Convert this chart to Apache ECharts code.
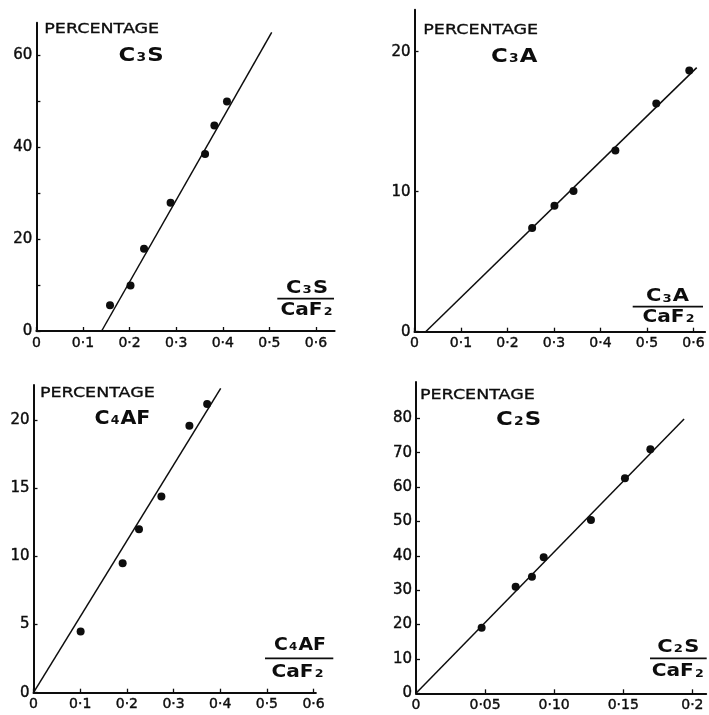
<!DOCTYPE html>
<html><head><meta charset="utf-8">
<script src="https://cdn.jsdelivr.net/npm/echarts@6/dist/echarts.min.js"></script>
<style>html,body{margin:0;padding:0;background:#fff}#c{width:709px;height:715px}</style>
</head><body><div id="c"></div>
<script>
// ---- Panel 1: C3S ----
const c3sX = [0.158, 0.202, 0.231, 0.288, 0.362, 0.382, 0.409];
const c3sY = [5.6, 9.9, 17.9, 27.9, 38.5, 44.7, 49.9];
const c3sLineX = [0.140, 0.505];
const c3sLineY = [0, 64.9];
// ---- Panel 2: C3A ----
const c3aX = [0.253, 0.301, 0.342, 0.432, 0.520, 0.591];
const c3aY = [7.4, 9.0, 10.05, 12.95, 16.3, 18.65];
const c3aLineX = [0.024, 0.607];
const c3aLineY = [0, 18.86];
// ---- Panel 3: C4AF ----
const c4afX = [0.101, 0.191, 0.226, 0.274, 0.334, 0.372];
const c4afY = [4.5, 9.5, 12.0, 14.4, 19.6, 21.2];
const c4afLineX = [0, 0.401];
const c4afLineY = [0, 22.35];
// ---- Panel 4: C2S ----
const c2sX = [0.0475, 0.0721, 0.0839, 0.0924, 0.1266, 0.1512, 0.1696];
const c2sY = [19.1, 31.0, 33.9, 39.6, 50.4, 62.6, 71.0];
const c2sLineX = [0, 0.194];
const c2sLineY = [0, 79.8];

// ---- tick values and labels ----
const xTickVals = [0, 0.1, 0.2, 0.3, 0.4, 0.5, 0.6];
const xTickLabels = ['0', '0·1', '0·2', '0·3', '0·4', '0·5', '0·6'];
const x4TickVals = [0, 0.05, 0.10, 0.15, 0.2];
const x4TickLabels = ['0', '0·05', '0·10', '0·15', '0·2'];
const y1TickVals = [0, 10, 20, 30, 40, 50, 60];
const y1LabelVals = [0, 20, 40, 60];
const y1Labels = ['0', '20', '40', '60'];
const y2TickVals = [0, 10, 20];
const y2Labels = ['0', '10', '20'];
const y3TickVals = [0, 5, 10, 15, 20];
const y3Labels = ['0', '5', '10', '15', '20'];
const y4TickVals = [0, 10, 20, 30, 40, 50, 60, 70, 80];
const y4Labels = ['0', '10', '20', '30', '40', '50', '60', '70', '80'];

const INK = '#0d0d0d';
const FONT = 'DejaVu Sans';

function fmt(vals, labels) {
  return function (v) {
    const i = vals.findIndex(function (t) { return Math.abs(t - v) < 1e-9; });
    return i >= 0 ? labels[i] : '';
  };
}
function zip(a, b) { return a.map(function (v, i) { return [v, b[i]]; }); }

function xAxis(gi, max, tickVals, labelVals, labels) {
  return {
    type: 'value', gridIndex: gi, min: 0, max: max,
    axisLine: { show: true, lineStyle: { color: INK, width: 2 } },
    axisTick: { show: true, inside: true, length: 4, customValues: tickVals, lineStyle: { color: INK, width: 1.3 } },
    axisLabel: { show: true, customValues: labelVals, formatter: fmt(labelVals, labels), color: INK, fontFamily: FONT, fontSize: 14, margin: 5, textBorderColor: INK, textBorderWidth: 0.4 },
    splitLine: { show: false }
  };
}
function yAxis(gi, max, tickVals, labelVals, labels) {
  return {
    type: 'value', gridIndex: gi, min: 0, max: max,
    axisLine: { show: true, onZero: false, lineStyle: { color: INK, width: 2 } },
    axisTick: { show: true, inside: true, length: 4, customValues: tickVals, lineStyle: { color: INK, width: 1.3 } },
    axisLabel: { show: true, customValues: labelVals, formatter: fmt(labelVals, labels), color: INK, fontFamily: FONT, fontSize: 15, margin: 4, textBorderColor: INK, textBorderWidth: 0.4 },
    splitLine: { show: false }
  };
}
function scatter(gi, xs, ys) {
  return { type: 'scatter', xAxisIndex: gi, yAxisIndex: gi, data: zip(xs, ys), symbol: 'circle', symbolSize: 8, itemStyle: { color: INK, opacity: 1 }, z: 3 };
}
function fit(gi, xs, ys) {
  return { type: 'line', xAxisIndex: gi, yAxisIndex: gi, data: zip(xs, ys), showSymbol: false, lineStyle: { color: INK, width: 1.5 }, z: 2 };
}

function richStyle(big, small) {
  return {
    b: { fontSize: big, fontFamily: FONT, fontWeight: 'bold', fill: INK },
    s: { fontSize: small, fontFamily: FONT, fontWeight: 'bold', fill: INK, verticalAlign: 'middle', padding: [4, 1, 0, 1] }
  };
}
function label(x, y, text, big, small, align, sx) {
  return {
    type: 'text', x: x, y: y, scaleX: sx,
    style: { text: text, rich: richStyle(big, small), fill: INK, align: align, verticalAlign: 'middle', font: 'bold ' + big + 'px ' + FONT }
  };
}
function pct(x, y) {
  return { type: 'text', x: x, y: y, scaleX: 1.25, style: { text: 'PERCENTAGE', fill: INK, stroke: INK, lineWidth: 0.3, font: '14px ' + FONT, align: 'left', verticalAlign: 'middle' } };
}
function bar(x1, x2, y) {
  return { type: 'line', shape: { x1: x1, y1: y, x2: x2, y2: y }, style: { stroke: INK, lineWidth: 1.8 } };
}

const option = {
  backgroundColor: '#fff',
  animation: false,
  grid: [
    { left: 36.4, top: 22.8, width: 298.2, height: 308.2, containLabel: false },
    { left: 414.5, top: 9.7, width: 290.6, height: 322, containLabel: false },
    { left: 33.5, top: 384.9, width: 282.4, height: 307.8, containLabel: false },
    { left: 416, top: 381.9, width: 290.2, height: 311.4, containLabel: false }
  ],
  xAxis: [
    xAxis(0, 0.64, xTickVals, xTickVals, xTickLabels),
    xAxis(1, 0.625, xTickVals, xTickVals, xTickLabels),
    xAxis(2, 0.605, xTickVals, xTickVals, xTickLabels),
    xAxis(3, 0.21, x4TickVals, x4TickVals, x4TickLabels)
  ],
  yAxis: [
    yAxis(0, 67, y1TickVals, y1LabelVals, y1Labels),
    yAxis(1, 23, y2TickVals, y2TickVals, y2Labels),
    yAxis(2, 22.6, y3TickVals, y3TickVals, y3Labels),
    yAxis(3, 90.6, y4TickVals, y4TickVals, y4Labels)
  ],
  series: [
    fit(0, c3sLineX, c3sLineY), scatter(0, c3sX, c3sY),
    fit(1, c3aLineX, c3aLineY), scatter(1, c3aX, c3aY),
    fit(2, c4afLineX, c4afLineY), scatter(2, c4afX, c4afY),
    fit(3, c2sLineX, c2sLineY), scatter(3, c2sX, c2sY)
  ],
  graphic: [
    pct(44.3, 29.7), label(141.2, 56, '{b|C}{s|3}{b|S}', 19, 11.5, 'center', 1.2),
    label(307, 288.5, '{b|C}{s|3}{b|S}', 17.5, 11, 'center', 1.2), bar(277.3, 334, 298.7), label(307, 310.5, '{b|CaF}{s|2}', 17.5, 11, 'center', 1.15),

    pct(423.3, 30), label(514.2, 56.7, '{b|C}{s|3}{b|A}', 19, 11.5, 'center', 1.2),
    label(667.5, 296.7, '{b|C}{s|3}{b|A}', 17.5, 11, 'center', 1.2), bar(632.7, 703, 306.7), label(669, 317.5, '{b|CaF}{s|2}', 17.5, 11, 'center', 1.15),

    pct(40, 393.3), label(122.5, 419, '{b|C}{s|4}{b|AF}', 19, 11.5, 'center', 1.08),
    label(300, 645, '{b|C}{s|4}{b|AF}', 17.5, 11, 'center', 1.08), bar(265, 333.3, 658.3), label(298, 672.5, '{b|CaF}{s|2}', 17.5, 11, 'center', 1.15),

    pct(420, 395.8), label(518.7, 420, '{b|C}{s|2}{b|S}', 19, 11.5, 'center', 1.2),
    label(678.3, 647.5, '{b|C}{s|2}{b|S}', 17.5, 11, 'center', 1.2), bar(650, 706.7, 658.3), label(678.3, 671.7, '{b|CaF}{s|2}', 17.5, 11, 'center', 1.15)
  ]
};
const chart = echarts.init(document.getElementById('c'), null, { renderer: 'canvas' });
chart.setOption(option);
</script>
</body></html>
